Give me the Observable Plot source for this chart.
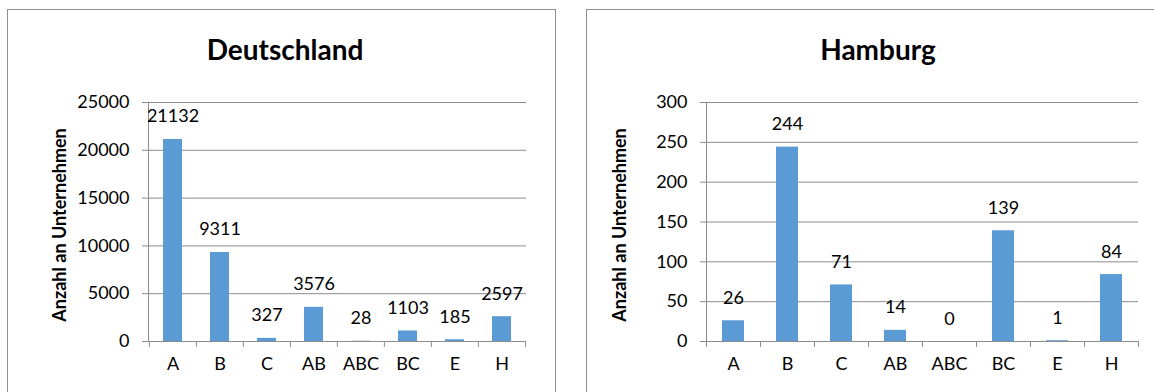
<!DOCTYPE html>
<html>
<head>
<meta charset="utf-8">
<script src="https://cdn.jsdelivr.net/npm/d3@7"></script>
<script src="https://cdn.jsdelivr.net/npm/@observablehq/plot@0.6"></script>
<style>
  html, body { margin: 0; padding: 0; background: #fff; }
  body { width: 1154px; height: 392px; position: relative; overflow: hidden; font-family: Lato, "Open Sans", sans-serif; }
  .panel { position: absolute; border: 1px solid #8f8f8f; box-sizing: border-box; }
  .title { position: absolute; font-weight: bold; font-size: 28px; line-height: 28px; color: #000; text-align: center; white-space: nowrap; }
  .chart { position: absolute; top: 0; }
  .chart svg { display: block; overflow: visible; }
</style>
</head>
<body>
<div class="panel" style="left:7px; top:9px; width:549px; height:420px;"></div>
<div class="panel" style="left:586px; top:9px; width:620px; height:420px;"></div>
<div class="title" id="t1" style="left:7px; width:556px; top:35px;"></div>
<div class="title" id="t2" style="left:586px; width:584px; top:35px;"></div>
<div class="chart" id="c1" style="left:0px;"></div>
<div class="chart" id="c2" style="left:577px;"></div>
<script>
// Firm counts per category
const categories = ["A", "B", "C", "AB", "ABC", "BC", "E", "H"];
const deutschland = [21132, 9311, 327, 3576, 28, 1103, 185, 2597];
const hamburg = [26, 244, 71, 14, 0, 139, 1, 84];
const yTicksDE = [0, 5000, 10000, 15000, 20000, 25000];
const yTicksHH = [0, 50, 100, 150, 200, 250, 300];
const yLabel = "Anzahl an Unternehmen";

const BAR = "#5b9bd5";
const GRID = "#8c8c8c";

function barChart({values, ticks, width, marginLeft, marginRight, labelDx}) {
  const rows = categories.map((c, i) => ({cat: c, value: values[i]}));
  const height = 392, marginTop = 102, marginBottom = 51;
  const step = (width - marginLeft - marginRight) / categories.length;
  const last = categories[categories.length - 1];
  return Plot.plot({
    width, height, marginTop, marginBottom, marginLeft, marginRight,
    style: {fontFamily: "Lato, 'Open Sans', sans-serif", fontSize: "18px", color: "#000", background: "transparent"},
    x: {domain: categories, paddingInner: 0.6, paddingOuter: 0.3, label: null},
    y: {domain: [ticks[0], ticks[ticks.length - 1]], label: null},
    marks: [
      Plot.gridY(ticks, {stroke: GRID, strokeOpacity: 1, strokeWidth: 1, insetLeft: -6}),
      Plot.axisY(ticks, {tickSize: 0, tickPadding: 19, tickFormat: d => String(d), fontSize: 18, label: null}),
      Plot.axisX({tickSize: 0, tickPadding: 16, fontSize: 18, label: null}),
      Plot.barY(rows, {x: "cat", y: "value", fill: BAR}),
      // category boundary ticks hanging below the baseline
      Plot.ruleX(categories, {x: d => d, y1: 0, y2: 0, insetBottom: -6, dx: -step / 2, stroke: GRID}),
      Plot.ruleX([last], {x: d => d, y1: 0, y2: 0, insetBottom: -6, dx: step / 2, stroke: GRID}),
      Plot.frame({anchor: "left", stroke: GRID, strokeOpacity: 1}),
      Plot.text(rows, {x: "cat", y: "value", text: d => String(d.value), lineAnchor: "bottom", dy: -17, fontSize: 18, fill: "#000"}),
      Plot.text([yLabel], {text: d => d, frameAnchor: "left", textAnchor: "middle", rotate: -90, dx: labelDx, dy: 3, fontSize: 18, fontWeight: "bold", fill: "#000"})
    ]
  });
}

document.getElementById("t1").textContent = "Deutschland";
document.getElementById("t2").textContent = "Hamburg";
document.getElementById("c1").append(barChart({values: deutschland, ticks: yTicksDE, width: 570, marginLeft: 148, marginRight: 44, labelDx: -88}));
document.getElementById("c2").append(barChart({values: hamburg, ticks: yTicksHH, width: 577, marginLeft: 129, marginRight: 16, labelDx: -86}));
</script>
</body>
</html>
